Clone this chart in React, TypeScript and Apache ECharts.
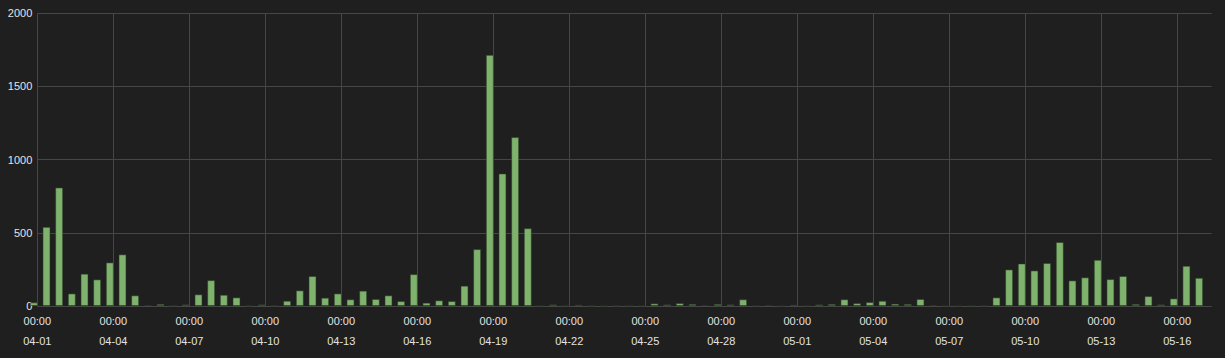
import React, { useEffect, useRef } from "react";
import * as echarts from "echarts";

// Range start: 04-01 00:00 (day offset 0); 12-hour buckets
const RANGE_DAYS = 46.36;
const TICK_INTERVAL_DAYS = 3;
const FIRST_BUCKET_OFFSET_DAYS = -0.137; // bucket centre relative to 04-01 00:00 (first one is clipped)
const BUCKET_DAYS = 0.5;

const values: number[] = [
  25,
  541, 810, 86, 221, 182, 298, 353, 73, 7, 14, 3, 11, 80, 177, 77, 59, 2, 11, 3, 36, 107, 205,
  57, 86, 46, 105, 48, 73, 34, 218, 23, 39, 34, 139, 389, 1716, 906, 1154, 532, 2, 11, 2, 9, 1,
  0, 1, 1, 2, 18, 11, 20, 14, 7, 14, 11, 46, 2, 7, 0, 9, 1, 11, 14, 46, 20, 27, 36, 16, 14,
  48, 7, 0, 0, 2, 1, 59, 250, 291, 243, 294, 437, 175, 196, 316, 184, 205, 14, 68, 11, 52, 275, 193,
];

const yTicks: number[] = [0, 500, 1000, 1500, 2000];

const pad = (n: number) => (n < 10 ? "0" + n : "" + n);

export default function App() {
  const ref = useRef<HTMLDivElement>(null);

  useEffect(() => {
    document.body.style.margin = "0";
    if (!ref.current) return;
    const chart = echarts.init(ref.current, undefined, { renderer: "svg" });

    const data = values.map((v, i) => [FIRST_BUCKET_OFFSET_DAYS + i * BUCKET_DAYS, v]);
    const tickCount = Math.floor(RANGE_DAYS / TICK_INTERVAL_DAYS) + 1;
    const gridColor = "#464646";
    const splitColors: string[] = [];
    for (let i = 0; i < tickCount; i++) splitColors.push(gridColor);
    splitColors.push("rgba(0,0,0,0)");

    const textStyle = {
      color: "#e3e3e3",
      fontFamily: "'Liberation Sans', Arial, sans-serif",
      fontSize: 11,
    };

    chart.setOption({
      animation: false,
      backgroundColor: "#1f1f1f",
      grid: { left: 37.3, top: 13.3, right: 13.3, bottom: 52, containLabel: false },
      xAxis: {
        type: "value",
        min: 0,
        max: RANGE_DAYS,
        interval: TICK_INTERVAL_DAYS,
        axisLine: { show: false },
        axisTick: { show: false },
        splitLine: { show: true, lineStyle: { color: splitColors, width: 1 } },
        axisLabel: {
          ...textStyle,
          margin: 5,
          lineHeight: 20,
          showMaxLabel: false,
          formatter: (d: number) => {
            if (Math.abs(d - Math.round(d)) > 1e-6) return "";
            const dt = new Date(Date.UTC(2000, 3, 1) + Math.round(d) * 86400000);
            return "00:00\n" + pad(dt.getUTCMonth() + 1) + "-" + pad(dt.getUTCDate());
          },
        },
      },
      yAxis: {
        type: "value",
        min: yTicks[0],
        max: yTicks[yTicks.length - 1],
        interval: yTicks[1] - yTicks[0],
        axisLine: { show: false },
        axisTick: { show: false },
        splitLine: { show: true, lineStyle: { color: gridColor, width: 1 } },
        axisLabel: { ...textStyle, margin: 5, formatter: (v: number) => String(v) },
      },
      series: [
        {
          type: "bar",
          data,
          barWidth: 8,
          clip: true,
          itemStyle: {
            color: "#7eb26d",
            borderColor: "rgba(40,60,35,0.55)",
            borderWidth: 1,
          },
        },
      ],
    });

    return () => chart.dispose();
  }, []);

  return <div ref={ref} style={{ width: 1225, height: 358 }} />;
}
